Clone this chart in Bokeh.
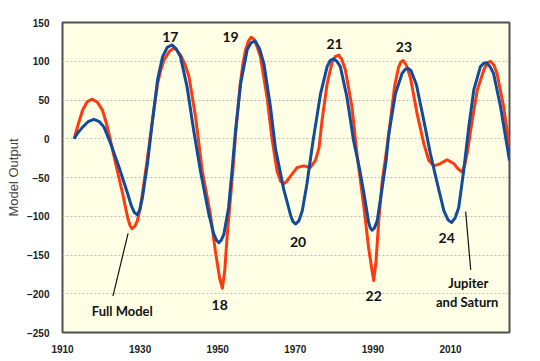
from bokeh.plotting import figure
from bokeh.models import Label, FixedTicker, Range1d
from bokeh.embed import file_html
from bokeh.resources import INLINE

# Full model (red)
full_year = [1913.0, 1914.0, 1915.2, 1916.4, 1917.7, 1919.0, 1920.3, 1921.2, 1922.0, 1923.7,
             1925.5, 1926.8, 1927.4, 1927.9, 1928.6, 1929.3, 1930.0, 1930.6, 1931.8, 1933.2,
             1934.5, 1935.4, 1936.2, 1937.6, 1938.4, 1939.2, 1940.4, 1941.5, 1942.6, 1944.3,
             1946.0, 1948.1, 1949.4, 1950.5, 1951.2, 1951.8, 1952.4, 1953.3, 1953.9, 1954.6,
             1955.8, 1956.5, 1957.2, 1957.9, 1958.6, 1959.4, 1960.2, 1961.0, 1962.7, 1964.0,
             1965.3, 1966.2, 1967.0, 1967.8, 1968.8, 1970.5, 1972.2, 1973.9, 1975.2, 1976.1,
             1976.9, 1978.2, 1979.5, 1980.3, 1981.2, 1982.0, 1982.9, 1984.6, 1985.9, 1987.7,
             1988.9, 1989.8, 1990.2, 1990.8, 1991.5, 1992.4, 1993.1, 1994.3, 1995.6, 1996.6,
             1997.2, 1997.8, 1998.6, 1999.7, 2001.4, 2003.1, 2004.4, 2005.7, 2007.4, 2009.1,
             2010.8, 2012.0, 2013.0, 2013.6, 2014.3, 2015.6, 2016.9, 2018.6, 2019.5, 2020.3,
             2021.2, 2022.0, 2023.7, 2025.2]
full_val = [0, 18, 37, 48, 51, 47, 37, 22, 6, -32,
            -71, -102, -112, -116, -113, -106, -90, -71, -28, 24,
            71, 90, 102, 113, 116, 116, 108, 97, 80, 28,
            -41, -97, -145, -180, -193, -171, -128, -76, -41, 5,
            70, 97, 115, 126, 131, 128, 118, 106, 54, 0,
            -42, -55, -58, -55, -48, -37, -35, -37, -28, -12,
            24, 71, 99, 106, 108, 102, 89, 41, -20, -89,
            -141, -171, -183, -158, -106, -54, -30, 15, 68, 92,
            99, 101, 95, 78, 32, -6, -28, -35, -32, -27,
            -32, -39, -43, -35, -19, 24, 63, 89, 98, 100,
            95, 84, 41, -11]

# Jupiter and Saturn (blue)
js_year = [1913.0, 1914.0, 1915.2, 1916.6, 1918.1, 1919.5, 1920.7, 1922.4, 1924.6, 1926.8,
           1927.7, 1928.5, 1929.3, 1929.9, 1930.6, 1931.9, 1933.2, 1934.5, 1935.8, 1937.0,
           1938.2, 1939.3, 1940.4, 1942.1, 1943.8, 1945.6, 1947.7, 1949.0, 1949.7, 1950.3,
           1950.9, 1951.6, 1952.8, 1953.7, 1954.6, 1955.9, 1957.6, 1958.6, 1959.7, 1960.8,
           1961.9, 1963.6, 1964.9, 1967.0, 1968.8, 1969.4, 1970.1, 1970.9, 1971.8, 1973.0,
           1974.5, 1976.5, 1978.2, 1979.0, 1979.9, 1980.7, 1981.6, 1983.3, 1985.0, 1986.6,
           1987.7, 1988.9, 1989.3, 1989.8, 1990.4, 1991.1, 1992.4, 1993.4, 1994.1, 1995.8,
           1997.5, 1998.2, 1999.0, 1999.8, 2001.2, 2003.1, 2004.8, 2006.6, 2008.3, 2009.4,
           2010.3, 2011.2, 2012.1, 2013.4, 2014.7, 2016.0, 2017.7, 2018.5, 2019.3, 2020.2,
           2021.1, 2022.9, 2025.2]
js_val = [0, 8, 15, 22, 25, 22, 15, -6, -37, -71,
          -86, -95, -98, -92, -76, -32, 24, 76, 106, 118,
          121, 116, 106, 67, 11, -43, -97, -123, -131, -134,
          -131, -123, -89, -41, 11, 71, 115, 124, 126, 116,
          97, 41, -13, -65, -99, -107, -110, -106, -93, -58,
          -5, 58, 93, 101, 103, 100, 93, 54, -2, -40,
          -71, -108, -115, -118, -115, -106, -63, -28, 6, 58,
          84, 89, 91, 88, 70, 24, -19, -58, -93, -105,
          -108, -102, -89, -41, 15, 63, 93, 97, 98, 93,
          84, 41, -28]

x_ticks = [1910, 1930, 1950, 1970, 1990, 2010]
y_ticks = [-250, -200, -150, -100, -50, 0, 50, 100, 150]

cycle_labels = ["17", "18", "19", "20", "21", "22", "23", "24"]
cycle_x = [1937.8, 1950.5, 1953.3, 1970.7, 1980.1, 1990.2, 1998.0, 2009.0]
cycle_y = [131.5, -214, 131.5, -133, 122, -203, 118, -128]

RED = "#FF3A10"
BLUE = "#114B9A"

p = figure(frame_width=447, frame_height=310, output_backend="svg", toolbar_location=None,
           x_range=Range1d(1910, 2025.2), y_range=Range1d(-250, 150),
           min_border_left=62, min_border_top=22, min_border_right=20, min_border_bottom=10)
p.background_fill_color = "#FFFFE6"
p.border_fill_color = "white"
p.outline_line_color = "#505050"
p.outline_line_width = 2

p.line(full_year, full_val, line_color=RED, line_width=3, line_join="round")
p.line(js_year, js_val, line_color=BLUE, line_width=3, line_join="round")

p.xaxis.ticker = FixedTicker(ticks=x_ticks)
p.yaxis.ticker = FixedTicker(ticks=y_ticks)
for ax in (p.xaxis[0], p.yaxis[0]):
    ax.axis_line_color = None
    ax.major_tick_line_color = None
    ax.minor_tick_line_color = None
    ax.major_label_text_font = "Liberation Sans"
    ax.major_label_text_font_style = "bold"
    ax.major_label_text_font_size = "10px"
    ax.major_label_text_color = "#222222"
p.xaxis.major_label_standoff = 6
p.yaxis.major_label_standoff = 7
p.yaxis.axis_label = "Model Output"
p.yaxis.axis_label_text_font = "Liberation Sans"
p.yaxis.axis_label_text_font_style = "normal"
p.yaxis.axis_label_text_font_size = "13px"
p.yaxis.axis_label_standoff = 3

p.xgrid.grid_line_color = None
p.ygrid.grid_line_color = "#B8B8B8"
p.ygrid.grid_line_dash = "2 2"
p.ygrid.grid_line_width = 1

for t, x, y in zip(cycle_labels, cycle_x, cycle_y):
    p.add_layout(Label(x=x, y=y, text=t, text_font="Lato", text_font_style="bold",
                       text_font_size="14px", text_align="center", text_baseline="middle",
                       text_color="#111111"))

p.add_layout(Label(x=1925.4, y=-222, text="Full Model", text_font="Lato", text_font_style="bold",
                   text_font_size="13px", text_align="center", text_baseline="middle",
                   text_color="#111111"))
p.add_layout(Label(x=2014.6, y=-186, text="Jupiter", text_font="Lato", text_font_style="bold",
                   text_font_size="13px", text_align="center", text_baseline="middle",
                   text_color="#111111"))
p.add_layout(Label(x=2014.3, y=-210, text="and Saturn", text_font="Lato", text_font_style="bold",
                   text_font_size="13px", text_align="center", text_baseline="middle",
                   text_color="#111111"))
p.segment(x0=[1926.9, 2013.9], y0=[-122, -94], x1=[1923.0, 2015.2], y1=[-203, -169],
          line_color="#111111", line_width=1.2)

open("out.html", "w").write(file_html(p, INLINE))
